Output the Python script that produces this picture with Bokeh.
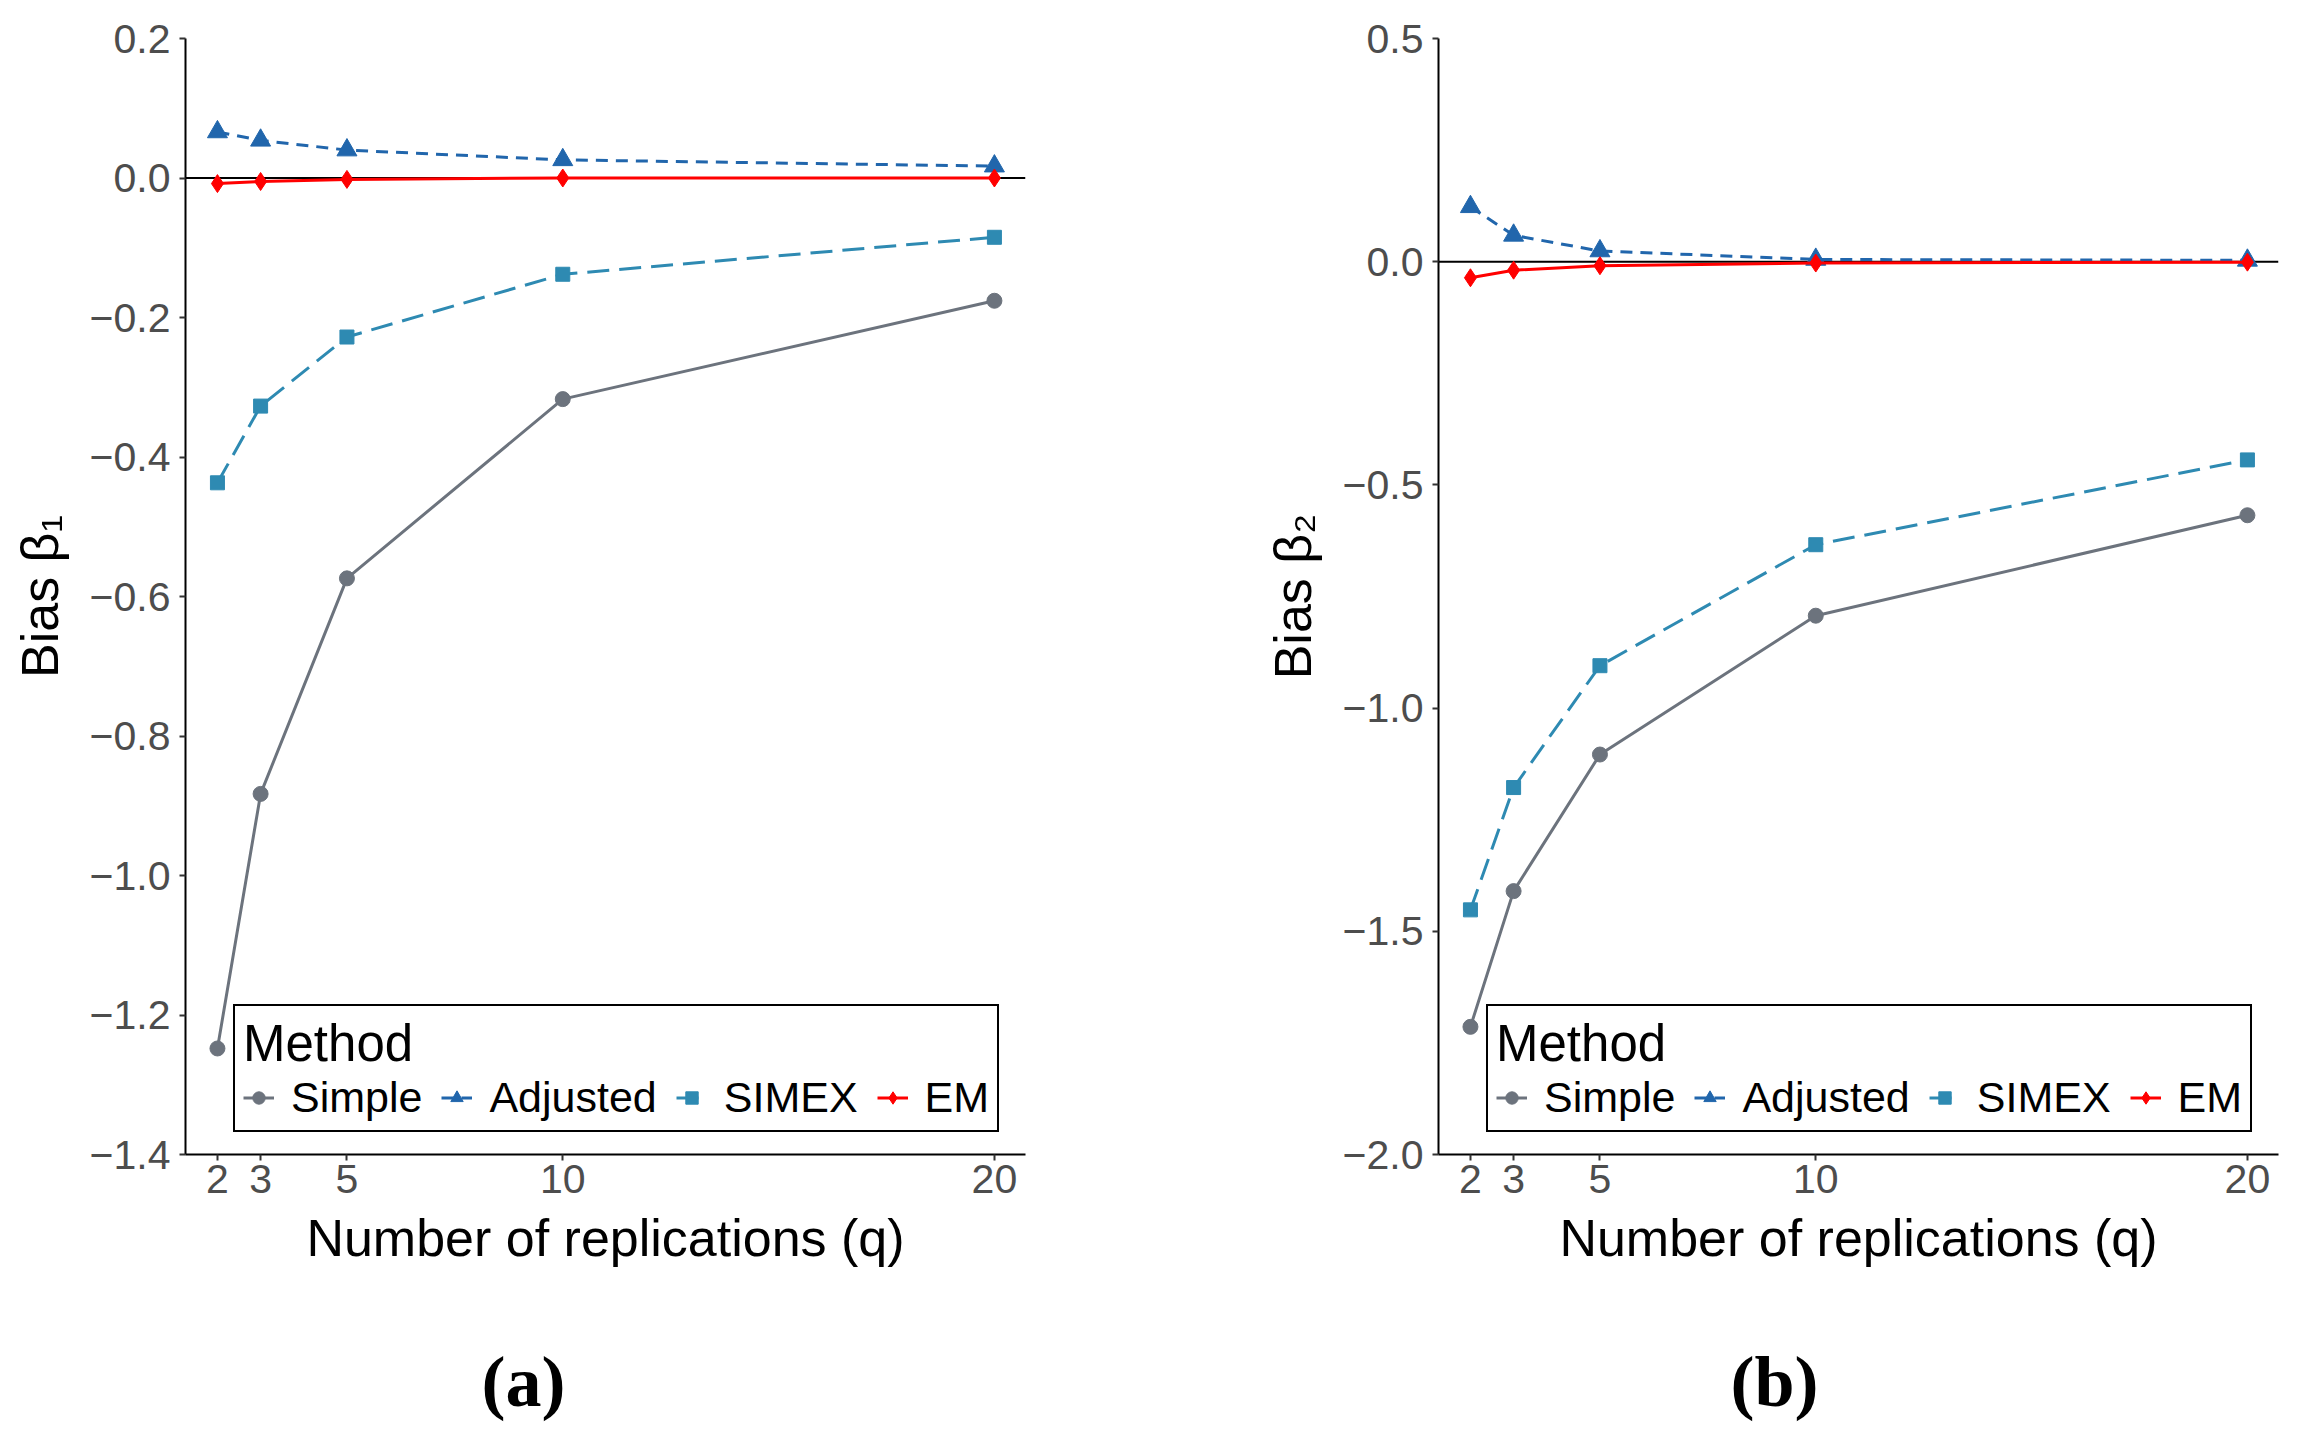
from bokeh.plotting import figure
from bokeh.models import (Range1d, FixedTicker, CustomJSTickFormatter, Legend,
                          LegendItem, Span, Title)
from bokeh.layouts import row
from bokeh.embed import file_html
from bokeh.resources import INLINE

# replications
q = [2, 3, 5, 10, 20]
methods = ["Simple", "Adjusted", "SIMEX", "EM"]

# (a) bias of beta1
bias1_simple = [-1.248, -0.883, -0.574, -0.317, -0.176]
bias1_adjusted = [0.066, 0.054, 0.040, 0.026, 0.017]
bias1_simex = [-0.437, -0.327, -0.228, -0.138, -0.085]
bias1_em = [-0.008, -0.005, -0.002, 0.0, 0.0]

# (b) bias of beta2
bias2_simple = [-1.714, -1.410, -1.104, -0.793, -0.568]
bias2_adjusted = [0.123, 0.059, 0.024, 0.005, 0.003]
bias2_simex = [-1.452, -1.178, -0.905, -0.634, -0.444]
bias2_em = [-0.036, -0.019, -0.009, -0.003, -0.001]

yticks1 = [0.2, 0.0, -0.2, -0.4, -0.6, -0.8, -1.0, -1.2, -1.4]
yticks2 = [0.5, 0.0, -0.5, -1.0, -1.5, -2.0]

colors = ["#6C737D", "#2166AC", "#2E8AB2", "#FF0000"]
markers = ["circle", "triangle", "square", "diamond"]
msizes = [15, 20, 14, 18]
dashes = ["solid", "12 8", "22 10", "solid"]

FONT = "Liberation Sans"
FRAME_W, FRAME_H = 840, 1116


def make_panel(series, yr, yticks, ylabel, tag, tag_offset, left_border, right_border):
    p = figure(frame_width=FRAME_W, frame_height=FRAME_H,
               min_border_left=left_border, min_border_right=right_border,
               min_border_top=38, min_border_bottom=286,
               x_range=Range1d(1.26, 20.72), y_range=Range1d(*yr),
               output_backend="svg", toolbar_location=None,
               background_fill_color="white", border_fill_color="white")
    p.outline_line_color = None
    p.grid.visible = False

    p.add_layout(Span(location=0, dimension="width", line_color="black",
                      line_width=2, level="underlay"))

    items = []
    for name, ys, c, m, s, d in zip(methods, series, colors, markers, msizes, dashes):
        lr = p.line(q, ys, line_color=c, line_width=3, line_dash=d)
        sr = p.scatter(q, ys, marker=m, size=s, fill_color=c, line_color=c)
        items.append(LegendItem(label=name, renderers=[lr, sr]))

    leg = Legend(items=items, orientation="horizontal", location=(48, 22),
                 title="Method", title_text_font=FONT, title_text_font_size="51px",
                 title_text_font_style="normal",
                 title_text_color="black", title_standoff=0,
                 label_text_font=FONT, label_text_font_size="43px",
                 label_text_color="black", label_standoff=17, spacing=19,
                 glyph_width=31, glyph_height=31, padding=8, margin=0,
                 border_line_color="black", border_line_width=2,
                 border_line_alpha=1,
                 background_fill_color="white", background_fill_alpha=1)
    p.add_layout(leg)

    for ax in (p.xaxis, p.yaxis):
        ax.axis_line_color = "black"
        ax.axis_line_width = 2
        ax.major_tick_line_color = "#333333"
        ax.major_tick_line_width = 2
        ax.major_tick_out = 6
        ax.major_tick_in = 0
        ax.minor_tick_line_color = None
        ax.major_label_text_font = FONT
        ax.major_label_text_font_size = "41px"
        ax.major_label_text_color = "#4D4D4D"
        ax.axis_label_text_font = FONT
        ax.axis_label_text_font_size = "52px"
        ax.axis_label_text_font_style = "normal"
        ax.axis_label_text_color = "black"

    p.xaxis.ticker = FixedTicker(ticks=q)
    p.xaxis.axis_label = "Number of replications (q)"
    p.xaxis.major_label_standoff = 4
    p.xaxis.axis_label_standoff = 13

    p.yaxis.ticker = FixedTicker(ticks=yticks)
    p.yaxis.formatter = CustomJSTickFormatter(
        code="return tick.toFixed(1).replace('-', '\u2212');")
    p.yaxis.axis_label = ylabel
    p.yaxis.major_label_standoff = 9
    p.yaxis.axis_label_standoff = 18

    # panel tag under the axis title
    p.add_layout(Title(text=tag, align="left", offset=tag_offset,
                       vertical_align="bottom", standoff=140,
                       text_font="Liberation Serif", text_font_style="bold",
                       text_font_size="72px", text_color="black"), "below")
    return p


p1 = make_panel([bias1_simple, bias1_adjusted, bias1_simex, bias1_em],
                (-1.4, 0.2), yticks1, "Bias \u03b2\u2081", "(a)", 296, 185, 125)
p2 = make_panel([bias2_simple, bias2_adjusted, bias2_simex, bias2_em],
                (-2.0, 0.5), yticks2, "Bias \u03b2\u2082", "(b)", 292, 288, 14)

p = row(p1, p2)
open("out.html", "w").write(file_html(p, INLINE))
